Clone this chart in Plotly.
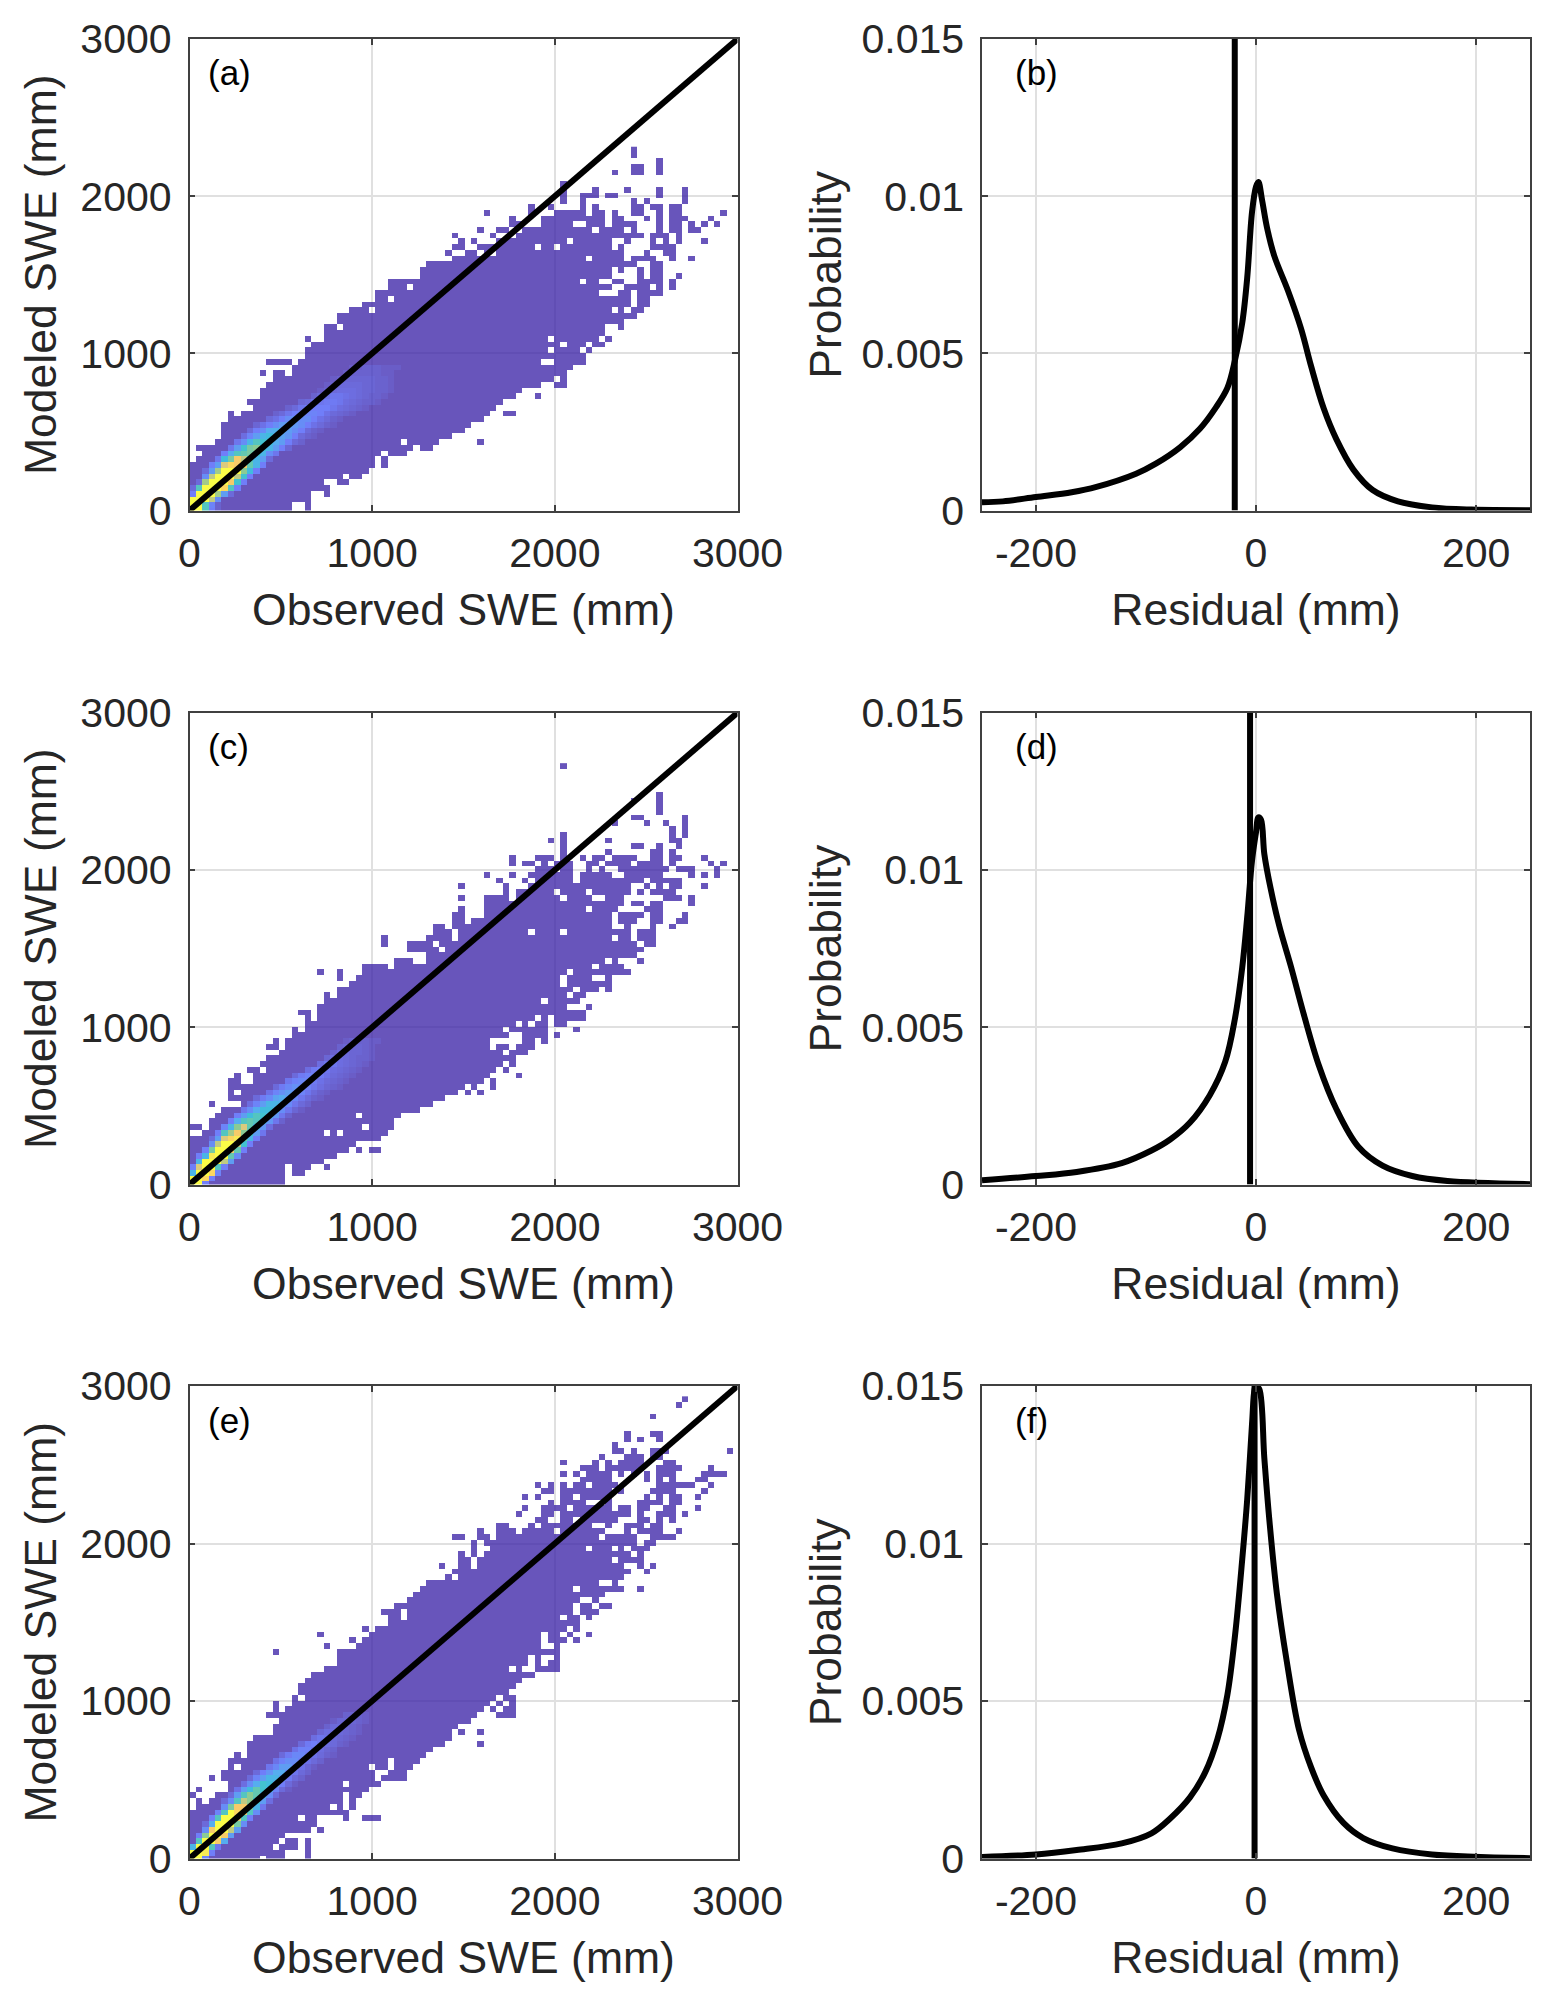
import plotly.graph_objects as go

# ---------- tick labels and panel letters ----------
swe_ticks = [0, 1000, 2000, 3000]
swe_labels = ["0", "1000", "2000", "3000"]
res_ticks = [-200, 0, 200]
res_labels = ["-200", "0", "200"]
prob_ticks = [0, 0.005, 0.01, 0.015]
prob_labels = ["0", "0.005", "0.01", "0.015"]
left_letters = ["(a)", "(c)", "(e)"]
right_letters = ["(b)", "(d)", "(f)"]

# ---------- 2-D histogram: occupied columns per row, bottom row first ----------
col_mm = 35.0
row_mm = 36.45

a_rows = ["0-15,18", "0-15,18", "0-18", "0-18,21", "0-21", "0-20,23,24", "0-23,25,26", "0-27", "0-28,30", "1-28,30",
          "2-29,31-33", "1-34,36,37", "4-32,34-38,45", "5-40", "5-42", "5-43", "6-45", "6,8-46,49,50", "10-47", "9-48",
          "11-50,54", "11-51", "12-54,57,58", "13-56,58", "11,13,14,16-58", "16-59", "12-15,17-54,57-61", "18-61",
          "18-55,57-60,62", "19-57,59-61,63,64", "18,21-55,57-63,65", "21-64", "21,22,24-64,67", "23-67", "23-69",
          "25-27,29-65,67,69,70", "27-68,70,71", "29,30,32-68,70,71", "29-63,67,68,70-73", "31-33,35-65,68-71,73,75",
          "31-60,62,63,66,67,70-73,75", "36-65,70,72,73,76", "36-65,67,70,72,73", "37-69,72,73", "41-61,63-67,69-72,75,78",
          "40,43,44,46,48-67,71,74,75", "41,42,45-53,55,56,58-65,67,72-75", "42,44,48-58,60-65,68,72,74,76,80",
          "41,47,51-70,72-74,76", "45,48,49,52-62,64-67,69,73,75,76,78,79", "50,51,55-59,62-64,66-69,73,75,76,78,80,82",
          "50,55-64,66,67,71,73,75-77,81", "46,53,57-61,63,64,66,69,70,73,75,76,83", "53,56,61,63,69,70,72,73,75,76",
          "58,61,69,71,77", "58,61-63,65,66,73,77", "58,63,68,73,77", "58", "", "66,69,70,73", "69,70,73", "73", "69", "69"]

c_rows = ["0-14", "0-14", "0-14,16,17", "0-14,16-18,21", "0-20", "0-22", "0-24,26,28,29", "0-25", "0-29", "2-20,22,24-30",
          "0,1,3-26,28-31", "3-31", "4-25,27-32", "5-35", "3,8-37", "6-39", "6,8-41,43,45", "6-42,44,47", "6,7,10-45,47",
          "7,10-46,51", "9,10,12-47,49", "11-48,50", "12-50", "14-48,50-52", "12,13,15-46,48,49,51-53", "13,15-46,52,53,55",
          "16-49,52-55,57", "16,18-48,50-55,60", "18-50,52,54,55,57,58", "18,20-53,55,57-61", "17,18,20-61", "20-58,62",
          "21-54,56-60", "21,23-58,60,61", "23-59,61-63,65", "25-57,59-65", "23,26-57,59-62,65", "20,23,27-58,60-68",
          "27-30,32-62,64-67", "32-34,37-64,66,70", "37-69", "34-38,40-70", "30,34-37,39-69,71,72", "30,37-40,42-65,67,68,70-72",
          "38-40,42-52,54-57,59-68,70-72", "38,39,41-65,68,72,75", "41,42,44-65,67-69,72,73,76,77", "41,42,46-65,67-70,72,73,77",
          "42,46-61,63-66,71-73", "46-67,69,70,72,73,78", "42,46-49,51-57,59-62,65-67,74-76,78", "49,51-56,58-61,63-68,70,72-75",
          "42,49,53-68,71,73,75,76,80", "48,52,54-59,61-70,72-76", "46,50,53-59,61-65,68-73,78,80,82",
          "54-56,58,59,62,64,67-74,76-78,82", "50,52,53,55,57-59,62,63,65-68,70-73,75,81,83",
          "50,54-56,58,61,63,64,66-69,72,73,75,76,80", "58,65,72,73,75", "58,69,70,73,76", "56,58,65,75,76", "58,75,77",
          "75,77", "66,71,74,77", "69,70,77", "73", "73", "69,73", "73", "", "", "", "", "58"]

e_rows = ["0-10,12-14,18", "0-14,18", "0-12,14-16,18", "0-13,15,16,18", "0-14", "0-18,20", "0-19", "0-16,18,19,24,27-29",
          "0-24", "1-21,23,25", "1,3-23,25", "0,4-23,25,26", "1,6-27", "6-23,25-29", "3,5-28,30-33", "5-28,31-33",
          "6,8-27,29,30,32-34", "6-30,32-35", "7,9-36", "9-37", "9-39,45", "10-40", "13-40,42,45", "13-41", "14-43",
          "12-44,48-50", "13,15-45,47,49,50", "13,16-46,48,50", "16,18-47,49,50", "17-49", "17-50", "18-51", "19-53",
          "21-49,51,54-57", "23-52,54,56,57", "23-52,54,57", "13,23-57", "21,26-54,57", "25,27-54,56-58,60",
          "20,28-54,56,57,59,62", "27,29-58,60", "31-60", "31,32,34-57,59,60,62", "30-32,34-59,61-63", "32-59,61,62,64,65",
          "34-60,63", "35-64", "36-59,61-67,70", "37-63,66", "40,42-67", "41-68,71", "39,42,43,45-67,70,72",
          "42,43,45-65,67-70", "42,44,46-68,70", "44,47-61,63-65,67,69-71", "44,46-69,71,72",
          "41,42,45,46,48-63,65-69,72-75", "45,48-50,52-56,58-64,68,70-73,76", "48,49,53,55-62,65,68-70,72,73",
          "54,55,58,59,61-66,70,71,73,75", "51,55,56,58-68,70,73-75,77", "52,55-58,60-65,67,68,70,71,74,75,79",
          "56,58-61,65,70-73,75,76", "52,54,58,59,61-65,71,73,75,76,79", "55,56,58-65,67,72-75,80",
          "54,56,58,60,61,63-66,73-78,81", "61-65,71,73,75,79,80", "58,60,62-65,67,69,71,73-75,80-83",
          "61-63,65-70,73-76,81", "58,63,65,67-70,74,75", "64,68-70,72,73", "66,67,69,72-74,84", "66", "68,70,73",
          "68,72,73", "", "", "72", "", "76", "77"]

# ---------- cell density along the ridge: (first column, values) per row, bottom row first ----------
a_heat = [(0, [1, 1, .45, .1, .03]), (0, [1, 1, .45, .12, .03]), (0, [1, 1, 1, .7, .15]), (0, [.1, 1, 1, 1, .65, .2, .05]),
          (0, [.05, .45, 1, 1, 1, .9, .45, .1]), (1, [.05, .65, 1, 1, 1, .85, .4, .1]), (2, [.15, .7, 1, 1, 1, .7, .4, .1]),
          (2, [.05, .2, .65, 1, 1, 1, .6, .35, .1]), (3, [.1, .2, .75, .9, .85, .85, .5, .3, .1]),
          (4, [.08, .35, .55, .85, .7, .45, .3, .2, .05]), (5, [.1, .25, .45, .5, .55, .4, .3, .15, .08]),
          (6, [.08, .2, .4, .55, .6, .35, .3, .2, .1, .04]), (7, [.08, .15, .3, .45, .4, .35, .25, .2, .1, .05, .03]),
          (8, [.06, .12, .2, .3, .35, .25, .22, .18, .1, .05, .03, .02]), (9, [.05, .1, .15, .25, .28, .25, .2, .15, .1, .05, .03, .02]),
          (10, [.04, .07, .1, .15, .2, .2, .18, .15, .1, .07, .05, .03, .02]), (12, [.05, .07, .1, .15, .17, .15, .15, .1, .07, .05, .03, .02]),
          (13, [.03, .05, .08, .1, .12, .12, .12, .1, .07, .05, .04, .03, .02]), (15, [.03, .05, .08, .1, .1, .1, .1, .08, .06, .05, .04, .03, .02]),
          (17, [.04, .05, .07, .08, .09, .09, .08, .06, .05, .04, .03, .03, .02]), (19, [.03, .05, .07, .08, .08, .07, .06, .05, .04, .03, .03, .02]),
          (20, [.02, .03, .05, .06, .06, .06, .05, .04, .04, .03, .03, .02]), (21, [.02, .03, .05, .05, .05, .05, .04, .04, .03, .03, .02]),
          (22, [.02, .03, .04, .04, .04, .04, .04, .03, .03, .02]), (24, [.02, .03, .03, .03, .03, .03, .02, .02]),
          (25, [.02, .02, .03, .03, .03, .02, .02, .02])]

c_heat = [(0, [1, 1, .1]), (0, [1, 1, .9, .1]), (0, [.3, 1, 1, .9, .12]), (0, [.1, .75, 1, 1, .45, .1]),
          (1, [.3, 1, 1, 1, .7, .2]), (1, [.1, .3, .95, 1, 1, .5, .15]), (2, [.1, .55, 1, 1, .85, .5, .1]),
          (3, [.15, .7, 1, 1, .7, .4, .1]), (3, [.05, .2, .75, .9, .95, .55, .3, .1]), (4, [.1, .45, .65, .85, .6, .4, .2, .08]),
          (5, [.12, .3, .6, .75, .5, .3, .18, .06]), (6, [.1, .25, .45, .5, .45, .3, .18, .08, .03]),
          (7, [.1, .2, .35, .45, .4, .28, .18, .08, .03]), (8, [.08, .15, .25, .35, .35, .27, .15, .08, .04, .02]),
          (9, [.06, .12, .2, .3, .3, .25, .14, .08, .05, .03]), (10, [.05, .09, .14, .22, .25, .2, .13, .08, .05, .03, .02]),
          (12, [.07, .12, .16, .2, .17, .12, .08, .05, .03, .02]), (13, [.05, .09, .13, .16, .14, .11, .08, .06, .04, .03, .02]),
          (15, [.08, .11, .13, .12, .09, .07, .05, .04, .03, .02]), (16, [.05, .09, .11, .11, .09, .07, .05, .04, .03, .02]),
          (18, [.06, .09, .1, .08, .06, .05, .04, .03, .02]), (20, [.06, .08, .08, .06, .05, .04, .03, .02]),
          (21, [.04, .06, .06, .05, .04, .03, .03, .02]), (22, [.03, .05, .05, .04, .04, .03, .02]), (23, [.03, .04, .04, .04, .03, .02]),
          (24, [.02, .03, .03, .03, .02, .02])]

e_heat = [(0, [1, 1, .12]), (0, [1, 1, .95, .1]), (0, [.3, 1, 1, .45, .08]), (1, [.45, 1, 1, .85, .25]),
          (1, [.1, .6, 1, 1, .85, .2]), (2, [.15, .85, 1, 1, .7, .2]), (2, [.05, .25, 1, 1, 1, .55, .15]),
          (3, [.1, .45, 1, 1, .8, .45, .1]), (4, [.12, .45, 1, .9, .8, .45, .15]), (5, [.15, .55, .85, .85, .55, .3, .08]),
          (5, [.05, .15, .45, .7, .6, .4, .2, .06]), (6, [.05, .2, .45, .6, .5, .3, .15, .05]),
          (7, [.07, .2, .35, .5, .4, .28, .12, .05, .02]), (8, [.06, .15, .25, .4, .35, .22, .1, .05, .02]),
          (9, [.05, .12, .2, .3, .3, .2, .09, .05, .03]), (10, [.05, .1, .17, .25, .25, .14, .08, .05, .03]), (12, [.08, .13, .2, .2, .12, .07, .04, .02]),
          (13, [.07, .11, .15, .15, .1, .07, .05, .03]), (14, [.05, .09, .13, .13, .09, .07, .05, .03, .02]), (16, [.07, .11, .11, .08, .06, .04, .03]),
          (17, [.05, .09, .1, .08, .06, .05, .03, .02]), (19, [.06, .08, .07, .05, .04, .03, .02]), (20, [.04, .06, .06, .05, .04, .03, .02]),
          (21, [.03, .05, .05, .04, .03, .02]), (22, [.02, .04, .04, .04, .03, .02]), (24, [.03, .03, .03, .02])]

# ---------- residual distributions ----------
b_res = [-249, -230, -200, -167.5, -145, -109, -91, -69, -51, -37, -26, -19, -12.5, -8, -3.6, 0, 2.2, 5.4, 10, 16.6, 29, 41, 50, 61.5, 73, 88.5, 106, 129, 160, 196, 249]
b_prob = [.00026, .00029, .00043, .00058, .00075, .00117, .00149, .00201, .0026, .00325, .0039, .0048, .00597, .0074, .0095, .0103, .01045, .0099, .009, .0081, .007, .00578, .0046, .00325, .00227, .0013, .00065, .00029, .0001, .00003, .00001]
b_mean = -19.3

d_res = [-249, -200, -163, -122, -95, -78, -60, -42, -28, -19, -12.5, -8, -3.6, 0, 2.2, 4.5, 7.6, 13, 21, 32, 43.5, 57, 73, 93, 115, 142, 174, 249]
d_prob = [.000135, .00027, .0004, .00068, .00108, .00143, .00197, .00284, .0039, .0053, .0069, .0085, .0103, .0112, .01167, .0116, .0105, .00946, .00824, .0069, .0054, .0038, .0024, .0012, .0006, .00027, .00011, .00001]
d_mean = -5.4

f_res = [-249, -200, -163, -122, -95, -78, -60, -46, -35, -26, -19, -12.5, -8, -3.6, -1.3, 0, 3, 7.6, 12, 19, 28, 39, 50, 61.5, 79.5, 97.5, 124, 160, 249]
f_prob = [.00005, .00013, .00027, .00048, .0008, .00127, .00194, .00275, .0038, .0052, .0071, .0095, .0114, .0138, .0149, .015, .0149, .0127, .0108, .0084, .00625, .0041, .0029, .002, .00113, .00065, .00032, .00013, .00001]
f_mean = -1.3

parula = [[0, "rgb(62,38,168)"], [.1, "rgb(72,90,248)"], [.25, "rgb(39,150,235)"], [.375, "rgb(5,175,205)"],
          [.5, "rgb(56,185,155)"], [.625, "rgb(120,190,110)"], [.75, "rgb(209,187,89)"], [.875, "rgb(253,190,56)"],
          [.95, "rgb(245,228,38)"], [1, "rgb(249,251,20)"]]

W, H = 1556, 2008
left_px = (189.5, 737.5)
right_px = (982, 1530)
rows_px = [(39, 510.5), (712.7, 1184.5), (1386, 1858.5)]
INK = "#262626"
AX = "#404040"
GRID = "#e0e0e0"


def grid_from(rows, heat):
    n_c = 86
    z = [[None] * n_c for _ in rows]
    for r, text in enumerate(rows):
        for part in filter(None, text.split(",")):
            lo, _, hi = part.partition("-")
            for c in range(int(lo), int(hi or lo) + 1):
                z[r][c] = 0.0
    for r, (start, vals) in enumerate(heat):
        for k, v in enumerate(vals):
            z[r][start + k] = v
    return z


def suffix(n):
    return "" if n == 1 else str(n)


fig = go.Figure()
panels = [(a_rows, a_heat, b_res, b_prob, b_mean),
          (c_rows, c_heat, d_res, d_prob, d_mean),
          (e_rows, e_heat, f_res, f_prob, f_mean)]
axis_common = dict(showline=True, mirror="ticks", linecolor=AX, linewidth=1.5, ticks="inside", ticklen=6, tickwidth=1.5,
                   tickcolor=AX, showgrid=True, gridcolor=GRID, gridwidth=1.8, zeroline=False, automargin=False,
                   tickfont=dict(family="Liberation Sans", size=41, color=INK), layer="above traces")
title_font = dict(family="Liberation Sans", size=44.5, color=INK)
layout = {}
annotations = []

for i, (rows, heat, res, prob, mean) in enumerate(panels):
    top, bot = rows_px[i]
    dom_y = [1 - bot / H, 1 - top / H]
    sl, sr = suffix(2 * i + 1), suffix(2 * i + 2)
    xl, yl, xr, yr = "x" + sl, "y" + sl, "x" + sr, "y" + sr
    z = grid_from(rows, heat)
    fig.add_trace(go.Heatmap(x=[(c + .5) * col_mm for c in range(86)], y=[r * row_mm for r in range(len(rows))], z=z,
                             colorscale=parula, zmin=0, zmax=1, showscale=False, opacity=0.78, hoverongaps=False,
                             xaxis=xl, yaxis=yl))
    fig.add_trace(go.Scatter(x=[swe_ticks[0], swe_ticks[-1]], y=[swe_ticks[0], swe_ticks[-1]], mode="lines",
                             line=dict(color="black", width=6), cliponaxis=False, showlegend=False, xaxis=xl, yaxis=yl))
    fig.add_trace(go.Scatter(x=res, y=prob, mode="lines", line=dict(color="black", width=6, shape="spline", smoothing=1.0),
                             showlegend=False, xaxis=xr, yaxis=yr))
    fig.add_trace(go.Scatter(x=[mean, mean], y=[prob_ticks[0], prob_ticks[-1]], mode="lines",
                             line=dict(color="black", width=6), showlegend=False, xaxis=xr, yaxis=yr))

    layout["xaxis" + sl] = dict(axis_common, domain=[left_px[0] / W, left_px[1] / W], range=[0, 3000], anchor=yl,
                                tickvals=swe_ticks, ticktext=swe_labels, ticklabelstandoff=6,
                                title=dict(text="Observed SWE (mm)", font=title_font, standoff=18))
    layout["yaxis" + sl] = dict(axis_common, domain=dom_y, range=[0, 3000], anchor=xl,
                                tickvals=swe_ticks, ticktext=swe_labels, ticklabelstandoff=8,
                                title=dict(text="Modeled SWE (mm)", font=title_font, standoff=10))
    layout["xaxis" + sr] = dict(axis_common, domain=[right_px[0] / W, right_px[1] / W], range=[-249, 249], anchor=yr,
                                tickvals=res_ticks, ticktext=res_labels, ticklabelstandoff=6,
                                title=dict(text="Residual (mm)", font=title_font, standoff=18))
    layout["yaxis" + sr] = dict(axis_common, domain=dom_y, range=[0, 0.015], anchor=xr,
                                tickvals=prob_ticks, ticktext=prob_labels, ticklabelstandoff=8,
                                title=dict(text="Probability", font=title_font, standoff=6))
    for letter, xaxis, frac in ((left_letters[i], xl, 16.5 / 548), (right_letters[i], xr, 31 / 548)):
        annotations.append(dict(text=letter, xref=f"{xaxis} domain", yref=f"{yl} domain", x=frac, y=1 - 34 / 472,
                                xanchor="left", yanchor="middle", showarrow=False,
                                font=dict(family="Liberation Sans", size=35, color="black")))

fig.update_layout(width=W, height=H, margin=dict(l=0, r=0, t=0, b=0), autosize=False, plot_bgcolor="white",
                  paper_bgcolor="white", showlegend=False, annotations=annotations, **layout)
fig.write_html("out.html", config={"displayModeBar": False}, post_script="document.body.style.margin='0';")
